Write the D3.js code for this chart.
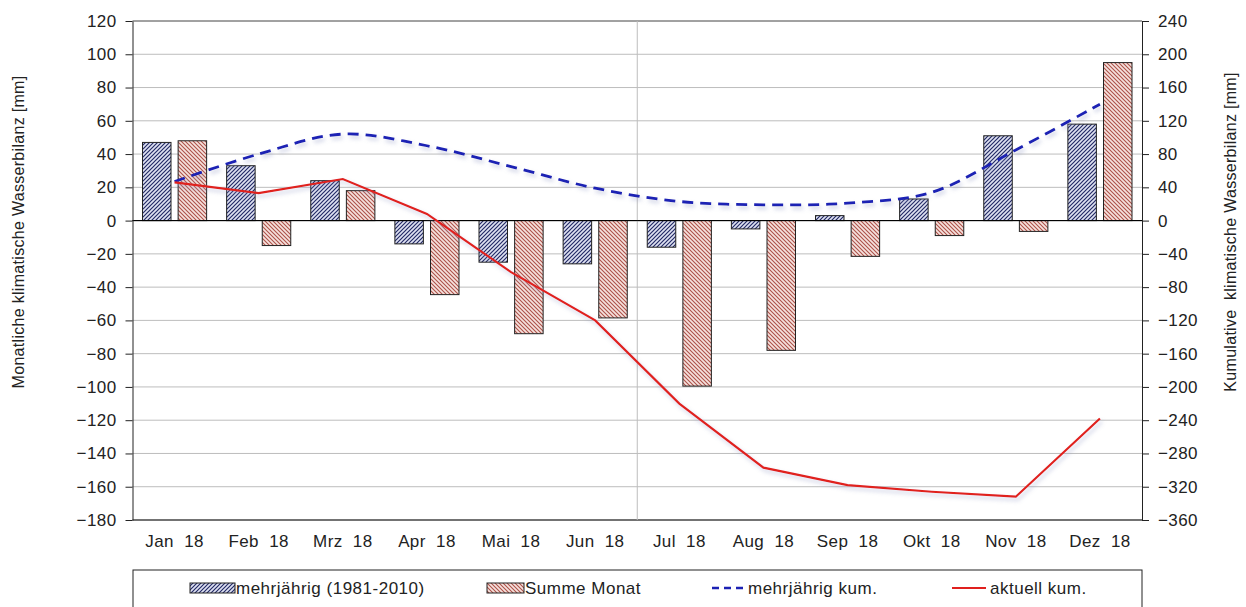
<!DOCTYPE html>
<html>
<head>
<meta charset="utf-8">
<script src="https://cdn.jsdelivr.net/npm/d3@7/dist/d3.min.js"></script>
<style>
  body { margin: 0; background: #fff; }
  svg text { font-family: "Liberation Sans", Arial, sans-serif; fill: #222; }
</style>
</head>
<body>
<svg id="chart" width="1246" height="607"></svg>
<script>
// categories
var months = ['Jan 18', 'Feb 18', 'Mrz 18', 'Apr 18', 'Mai 18', 'Jun 18',
              'Jul 18', 'Aug 18', 'Sep 18', 'Okt 18', 'Nov 18', 'Dez 18'];

// monthly values [mm], left axis
var mehrjaehrig = [47, 33, 24, -14, -25, -26, -16, -5, 3, 13, 51, 58];
var summeMonat  = [48, -15, 18, -44.5, -68, -58.5, -99.5, -78, -21.5, -9, -6.5, 95];

// cumulative values [mm], right axis
var mehrjaehrigKum = [47, 80, 104, 90, 65, 39, 23, 19, 21, 34, 85, 140];
var aktuellKum     = [46, 33, 50, 8, -62, -120, -220, -297, -318, -326, -332, -238];

// tick labels
var leftTicks  = d3.range(-180, 121, 20);
var rightTicks = d3.range(-360, 241, 40);

var legendItems = ['mehrjährig (1981-2010)', 'Summe Monat', 'mehrjährig kum.', 'aktuell kum.'];

var svg = d3.select('#chart');
var plot = { left: 132.5, right: 1142, top: 21, bottom: 520 };

var x = d3.scaleBand().domain(months).range([plot.left, plot.right]);
var xSub = d3.scaleBand().domain(['mehr', 'summe'])
    .range([10, x.bandwidth() - 10]).paddingInner(0.2);
var yL = d3.scaleLinear().domain([-180, 120]).range([plot.bottom, plot.top]);
var yR = d3.scaleLinear().domain([-360, 240]).range([plot.bottom, plot.top]);

// patterns and shadow
var defs = svg.append('defs');
var blueHatch = defs.append('pattern')
    .attr('id', 'hatchBlue').attr('patternUnits', 'userSpaceOnUse')
    .attr('width', 4).attr('height', 4);
blueHatch.append('rect').attr('width', 4).attr('height', 4).attr('fill', '#dfe2f2');
blueHatch.append('path').attr('d', 'M-1,1L1,-1M0,4L4,0M3,5L5,3')
    .attr('stroke', '#232a66').attr('stroke-width', 1.2);

var redHatch = defs.append('pattern')
    .attr('id', 'hatchRed').attr('patternUnits', 'userSpaceOnUse')
    .attr('width', 4).attr('height', 4);
redHatch.append('rect').attr('width', 4).attr('height', 4).attr('fill', '#f6e2de');
redHatch.append('path').attr('d', 'M-1,3L1,5M0,0L4,4M3,-1L5,1')
    .attr('stroke', '#ad5249').attr('stroke-width', 1.1);

var shadow = defs.append('filter').attr('id', 'shadow')
    .attr('x', '-10%').attr('y', '-50%').attr('width', '120%').attr('height', '200%');
shadow.append('feDropShadow').attr('dx', 2).attr('dy', 3).attr('stdDeviation', 2)
    .attr('flood-color', '#8890c0').attr('flood-opacity', 0.45);

// grid
svg.append('g').selectAll('line.grid')
    .data(leftTicks)
    .enter().append('line')
    .attr('class', 'grid')
    .attr('x1', plot.left).attr('x2', plot.right)
    .attr('y1', function(d){ return yL(d); })
    .attr('y2', function(d){ return yL(d); })
    .attr('stroke', function(d){
        if(d === 0) return '#000';
        if(d === 120 || d === -180) return '#444';
        return '#bdbdbd';
    })
    .attr('stroke-width', function(d){ return d === -180 ? 1.5 : 1; });

svg.append('line')
    .attr('x1', x('Jul 18')).attr('x2', x('Jul 18'))
    .attr('y1', plot.top).attr('y2', plot.bottom)
    .attr('stroke', '#bdbdbd');

// bars
function drawBars(values, key, fill){
    svg.append('g').selectAll('rect.' + key)
        .data(values)
        .enter().append('rect')
        .attr('class', key)
        .attr('x', function(d, i){ return x(months[i]) + xSub(key); })
        .attr('width', xSub.bandwidth())
        .attr('y', function(d){ return yL(Math.max(0, d)); })
        .attr('height', function(d){ return Math.abs(yL(d) - yL(0)); })
        .attr('fill', fill)
        .attr('stroke', '#222')
        .attr('stroke-width', 1);
}
drawBars(mehrjaehrig, 'mehr', 'url(#hatchBlue)');
drawBars(summeMonat, 'summe', 'url(#hatchRed)');

// zero line above bars
svg.append('line')
    .attr('x1', plot.left).attr('x2', plot.right)
    .attr('y1', yL(0)).attr('y2', yL(0))
    .attr('stroke', '#000');

// lines
var cx = function(d, i){ return x(months[i]) + x.bandwidth() / 2; };

svg.append('path')
    .datum(mehrjaehrigKum)
    .attr('d', d3.line().x(cx).y(function(d){ return yR(d); }).curve(d3.curveCatmullRom.alpha(0.5)))
    .attr('fill', 'none')
    .attr('stroke', '#1c22b4')
    .attr('stroke-width', 2.8)
    .attr('stroke-dasharray', '11,7')
    .attr('filter', 'url(#shadow)');

svg.append('path')
    .datum(aktuellKum)
    .attr('d', d3.line().x(cx).y(function(d){ return yR(d); }))
    .attr('fill', 'none')
    .attr('stroke', '#e0201e')
    .attr('stroke-width', 2.2)
    .attr('filter', 'url(#shadow)');

// axes
var axisL = svg.append('g')
    .attr('transform', 'translate(' + plot.left + ',0)')
    .call(d3.axisLeft(yL).tickValues(leftTicks).tickSize(7).tickSizeOuter(0).tickPadding(9));
var axisR = svg.append('g')
    .attr('transform', 'translate(' + plot.right + ',0)')
    .call(d3.axisRight(yR).tickValues(rightTicks).tickSize(7).tickSizeOuter(0).tickPadding(9));
var axisB = svg.append('g')
    .attr('transform', 'translate(0,' + plot.bottom + ')')
    .call(d3.axisBottom(x).tickSize(0).tickPadding(15));
axisB.select('.domain').remove();

[axisL, axisR, axisB].forEach(function(a){
    a.selectAll('text').style('font-size', '17px').style('letter-spacing', '0.4px')
        .attr('fill', '#222')
        .style('font-family', '"Liberation Sans", Arial, sans-serif');
    a.selectAll('line, path').attr('stroke', '#222');
});
axisB.selectAll('text').text(function(d){ return d.replace(' ', '\u00a0\u00a0'); });

// axis titles
svg.append('text')
    .attr('transform', 'translate(24,232) rotate(-90)')
    .attr('text-anchor', 'middle')
    .style('font-size', '16px')
    .style('letter-spacing', '0.3px')
    .text('Monatliche klimatische Wasserbilanz [mm]');
svg.append('text')
    .attr('transform', 'translate(1236,232) rotate(-90)')
    .attr('text-anchor', 'middle')
    .style('font-size', '16px')
    .style('letter-spacing', '0.3px')
    .text('Kumulative\u00a0 klimatische Wasserbilanz [mm]');

// legend
var legend = svg.append('g');
legend.append('rect')
    .attr('x', 133).attr('y', 570).attr('width', 1009).attr('height', 50)
    .attr('fill', '#fff').attr('stroke', '#222');

var legendX = [190, 487, 712, 952];
var legendY = 588;
legend.append('rect').attr('x', legendX[0]).attr('y', legendY - 5).attr('width', 45).attr('height', 10)
    .attr('fill', 'url(#hatchBlue)').attr('stroke', '#222');
legend.append('rect').attr('x', legendX[1]).attr('y', legendY - 5).attr('width', 37).attr('height', 10)
    .attr('fill', 'url(#hatchRed)').attr('stroke', '#222');
legend.append('line').attr('x1', legendX[2]).attr('x2', legendX[2] + 35)
    .attr('y1', legendY).attr('y2', legendY)
    .attr('stroke', '#1c22b4').attr('stroke-width', 2.6).attr('stroke-dasharray', '7,5');
legend.append('line').attr('x1', legendX[3]).attr('x2', legendX[3] + 34)
    .attr('y1', legendY).attr('y2', legendY)
    .attr('stroke', '#e0201e').attr('stroke-width', 2.2);

var textX = [236, 525, 748, 990];
legend.selectAll('text.legend')
    .data(legendItems)
    .enter().append('text')
    .attr('class', 'legend')
    .attr('x', function(d, i){ return textX[i]; })
    .attr('y', legendY + 6)
    .style('font-size', '17px')
    .style('letter-spacing', '0.5px')
    .text(function(d){ return d; });
</script>
</body>
</html>
